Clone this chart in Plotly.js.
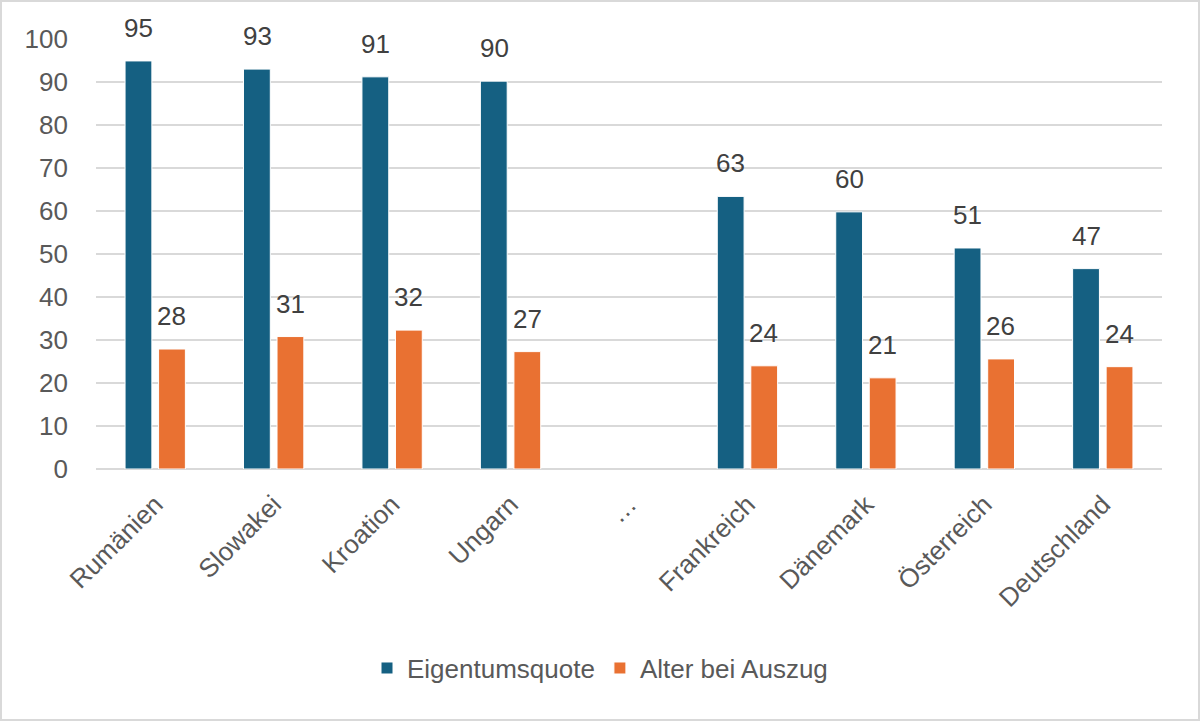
<!DOCTYPE html>
<html>
<head>
<meta charset="utf-8">
<script src="https://cdn.plot.ly/plotly-3.0.1.min.js"></script>
<style>
html,body{margin:0;padding:0;background:#fff;}
#chart{width:1200px;height:721px;box-sizing:border-box;border:2px solid #d9d9d9;}
</style>
</head>
<body>
<div id="chart"></div>
<script>
const categories = ["Rumänien", "Slowakei", "Kroation", "Ungarn", "…", "Frankreich", "Dänemark", "Österreich", "Deutschland"];
const eigentumsquote = [94.9, 93.0, 91.2, 90.2, null, 63.4, 59.8, 51.4, 46.6];
const alterBeiAuszug = [27.9, 30.8, 32.3, 27.3, null, 24.0, 21.2, 25.6, 23.8];
const seriesNames = ["Eigentumsquote", "Alter bei Auszug"];
const yTicks = [0, 10, 20, 30, 40, 50, 60, 70, 80, 90, 100];

const FONT = "Liberation Sans, Arial, sans-serif";
const colors = ["#156082", "#E97132"];

const traces = [eigentumsquote, alterBeiAuszug].map((vals, i) => ({
  type: "bar",
  name: seriesNames[i],
  x: categories,
  y: vals,
  marker: {color: colors[i], line: {color: "#ffffff", width: 1}},
  hoverinfo: "skip"
}));

const annotations = [];
[eigentumsquote, alterBeiAuszug].forEach((vals, i) => {
  vals.forEach((v, j) => {
    if (v === null) return;
    annotations.push({
      x: categories[j], y: v, xref: "x", yref: "y",
      text: String(Math.round(v)),
      showarrow: false,
      xanchor: "center", yanchor: "bottom",
      xshift: i === 0 ? -16.5 : 16.5,
      yshift: 16,
      font: {family: FONT, size: 26, color: "#404040"}
    });
  });
});

const layout = {
  width: 1196, height: 717,
  margin: {l: 94, r: 36, t: 37, b: 250},
  paper_bgcolor: "#ffffff", plot_bgcolor: "#ffffff",
  barmode: "group",
  bargap: 0.434,
  bargroupgap: 0.2,
  showlegend: true,
  legend: {
    orientation: "h", xref: "container", yref: "container",
    x: 0.5, xanchor: "center", y: 0.071, yanchor: "middle",
    font: {family: FONT, size: 26, color: "#595959"},
    traceorder: "normal"
  },
  xaxis: {
    type: "category",
    tickangle: -45,
    tickfont: {family: FONT, size: 26, color: "#595959"},
    showgrid: false, zeroline: false,
    showline: false, ticks: "",
    ticklabelstandoff: 14
  },
  yaxis: {
    range: [0, 100],
    tickvals: yTicks,
    ticktext: yTicks.map(String),
    tickfont: {family: FONT, size: 26, color: "#595959"},
    showgrid: true, gridcolor: "#d9d9d9", gridwidth: 1.5,
    zeroline: true, zerolinecolor: "#d9d9d9", zerolinewidth: 1.5,
    showline: false, ticks: "",
    ticklabelstandoff: 27,
    fixedrange: true
  },
  annotations: annotations
};

Plotly.newPlot("chart", traces, layout, {displayModeBar: false, staticPlot: true});
</script>
</body>
</html>
